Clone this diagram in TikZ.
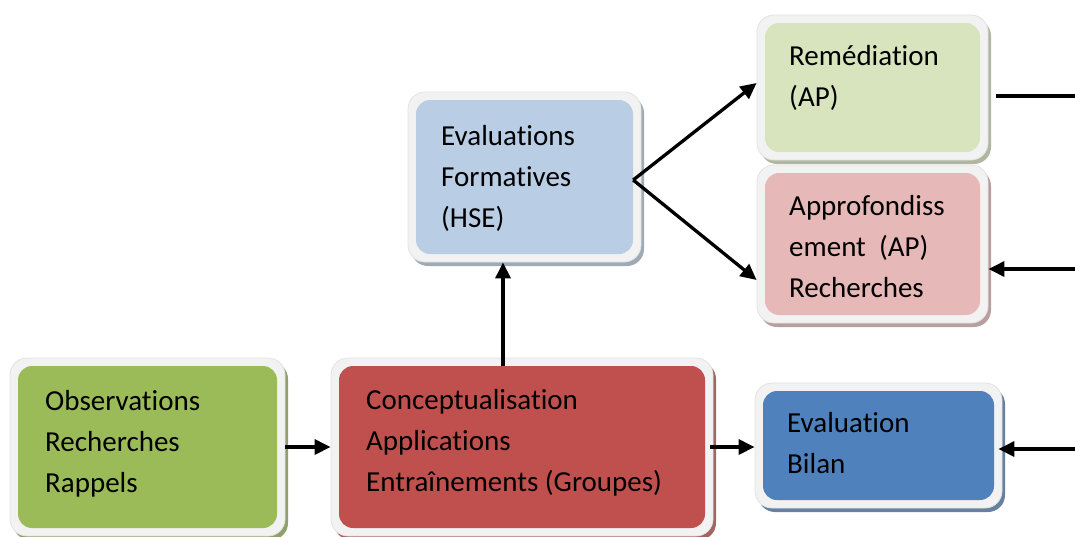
\documentclass[tikz,border=0pt]{standalone}
\usepackage{fontspec}
\setmainfont{Carlito}[Ligatures={NoCommon}]
\usetikzlibrary{arrows.meta,shadows}
\definecolor{cgreen}{HTML}{9BBB59}
\definecolor{cred}{HTML}{C0504D}
\definecolor{clblue}{HTML}{B9CDE5}
\definecolor{clgreen}{HTML}{D7E4BD}
\definecolor{cpink}{HTML}{E6B9B8}
\definecolor{cblue}{HTML}{4F81BD}
\definecolor{framegray}{HTML}{F2F2F2}
\definecolor{frameedge}{HTML}{E2E2E2}
\tikzset{
  framebox/.style={fill=framegray, draw=frameedge, line width=0.8pt,
    rounded corners=17pt, inner sep=0pt,
    drop shadow={shadow xshift=3pt, shadow yshift=-4pt, fill=#1!55!gray, opacity=1}},
  innerbox/.style={fill=#1, draw=none, rounded corners=14pt, inner sep=0pt},
  lbl/.style={anchor=north west, align=left, inner sep=0pt,
    font=\fontsize{29}{41}\selectfont},
  conn/.style={line width=3.3pt, -{Triangle[length=16pt,width=15pt]}},
  plainline/.style={line width=3.3pt},
}
\begin{document}
\begin{tikzpicture}[x=1pt,y=-1pt]
\useasboundingbox (0,0) rectangle (1075,536);
% boxes
\node[framebox=cgreen, minimum width=275pt, minimum height=178pt] (obsF) at (147.5,447) {};
\node[innerbox=cgreen, minimum width=259pt, minimum height=162pt] (obsI) at (147.5,447) {};
\node[framebox=cred, minimum width=382pt, minimum height=178pt] (conF) at (522,447) {};
\node[innerbox=cred, minimum width=366pt, minimum height=162pt] (conI) at (522,447) {};
\node[framebox=clblue, minimum width=233pt, minimum height=170pt] (efoF) at (524.5,177) {};
\node[innerbox=clblue, minimum width=217pt, minimum height=154pt] (efoI) at (524.5,177) {};
\node[framebox=clgreen, minimum width=231pt, minimum height=145pt] (remF) at (872.5,87.5) {};
\node[innerbox=clgreen, minimum width=215pt, minimum height=129pt] (remI) at (872.5,87.5) {};
\node[framebox=cpink, minimum width=231pt, minimum height=158pt] (appF) at (872.5,244) {};
\node[innerbox=cpink, minimum width=215pt, minimum height=142pt] (appI) at (872.5,244) {};
\node[framebox=cblue, minimum width=247pt, minimum height=125pt] (bilF) at (878.5,445.5) {};
\node[innerbox=cblue, minimum width=231pt, minimum height=109pt] (bilI) at (878.5,445.5) {};
% texts
\node[lbl] (obsT) at (45,381.3) {\strut Observations\\\strut Recherches\\\strut Rappels};
\node[lbl] (conT) at (366,380.3) {\strut Conceptualisation\\\strut Applications\\\strut Entraînements (Groupes)};
\node[lbl] (efoT) at (441,116.3) {\strut Evaluations\\\strut Formatives\\\strut (HSE)};
\node[lbl] (remT) at (789,36.3) {\strut Remédiation\\\strut (AP)};
\node[lbl] (appT) at (789,186.3) {\strut Approfondiss\\\strut ement~ (AP)\\\strut Recherches};
\node[lbl] (bilT) at (787,403.3) {\strut Evaluation\\\strut Bilan};
% connectors
\draw[conn] (obsF.east) -- (obsF.east -| conF.west);
\draw[conn] ([xshift=-3pt]conF.east) -- (conF.east -| bilF.west);
\draw[conn] ([xshift=-19pt]conI.north) coordinate (vb) -- (vb |- efoF.south);
\coordinate (fan) at ([yshift=-3pt]efoI.east);
\draw[conn] (fan) -- ([yshift=4.5pt]remF.west);
\draw[conn] (fan) -- ([yshift=-36pt]appF.west);
\coordinate (r1) at (1075,96);
\coordinate (r2) at (1075,269);
\coordinate (r3) at (1075,449);
\draw[plainline, shorten <=8pt] (r1 -| remF.east) -- (r1);
\draw[conn] (r2) -- (r2 -| appF.east);
\draw[conn, shorten >=-4pt] (r3) -- (r3 -| bilF.east);
\end{tikzpicture}
\end{document}
